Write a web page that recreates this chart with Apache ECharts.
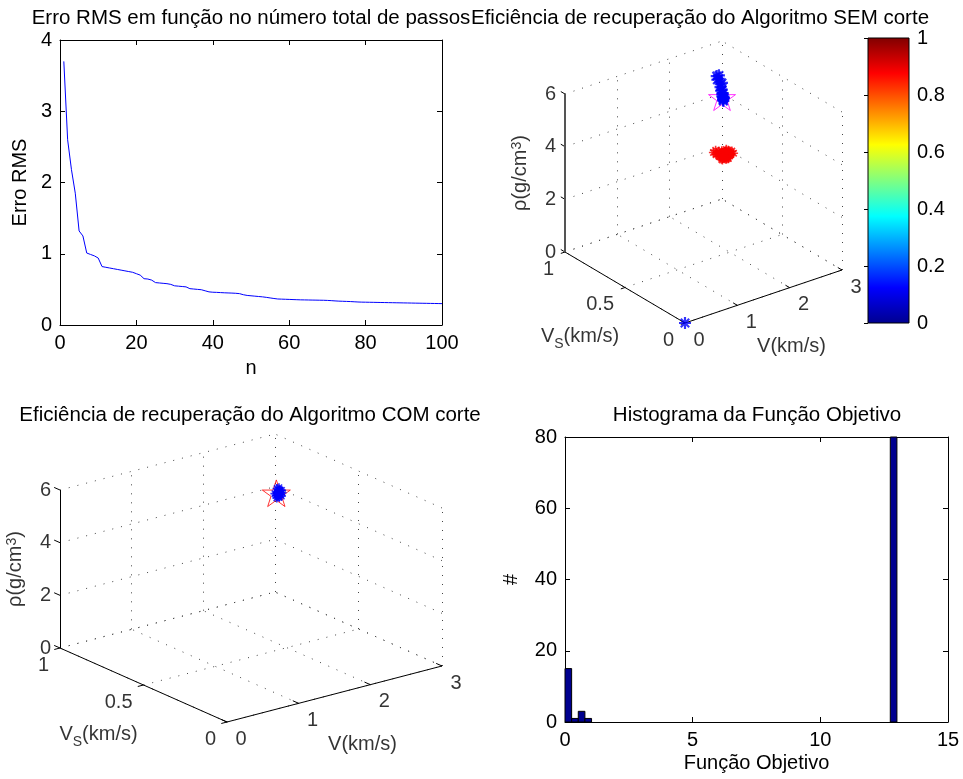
<!DOCTYPE html>
<html>
<head>
<meta charset="utf-8">
<title>Eficiência de recuperação</title>
<script src="https://cdn.jsdelivr.net/npm/echarts@6/dist/echarts.min.js"></script>
<style>
  html, body { margin: 0; padding: 0; background: #fff; }
  #chart { width: 963px; height: 779px; }
</style>
</head>
<body>
<div id="chart"></div>
<script>
const FONT = '"Liberation Sans", Arial, Helvetica, sans-serif';

// erro RMS para cada passo n = 1..100
const erroRms = [
  3.70, 2.60, 2.18, 1.85, 1.32, 1.25, 1.01, 0.99, 0.97, 0.94,
  0.82, 0.81, 0.80, 0.79, 0.78, 0.77, 0.76, 0.75, 0.74, 0.72,
  0.70, 0.65, 0.645, 0.63, 0.595, 0.59, 0.585, 0.58, 0.57, 0.55,
  0.545, 0.54, 0.535, 0.51, 0.505, 0.50, 0.495, 0.48, 0.465, 0.46,
  0.458, 0.455, 0.452, 0.45, 0.448, 0.445, 0.44, 0.425, 0.415, 0.41,
  0.405, 0.40, 0.395, 0.388, 0.38, 0.372, 0.365, 0.363, 0.361, 0.359,
  0.357, 0.355, 0.353, 0.352, 0.351, 0.350, 0.349, 0.348, 0.347, 0.345,
  0.342, 0.338, 0.335, 0.333, 0.331, 0.329, 0.326, 0.323, 0.321, 0.320,
  0.319, 0.318, 0.317, 0.316, 0.315, 0.314, 0.313, 0.312, 0.311, 0.310,
  0.309, 0.308, 0.307, 0.306, 0.305, 0.304, 0.303, 0.302, 0.301, 0.300
];
const passos = erroRms.map((_, i) => i + 1);

// histograma da função objetivo
const histIni  = [0, 0.26, 0.52, 0.78, 12.74];
const histFim  = [0.26, 0.52, 0.78, 1.04, 13.0];
const histCont = [15, 1, 3, 1, 80];

// ticks dos eixos 3D
const vTicks = [0, 1, 2, 3];
const vsTicks = [0, 0.5, 1];
const rhoTicks = [0, 2, 4, 6];

// modelo verdadeiro [V, Vs, rho]
const modeloVerdadeiro = [1.90, 0.52, 5.88];

// modelos recuperados SEM corte: [V, Vs, rho, f normalizada]
const semPontos = [
  [2.30, 0.72, 5.92, 0.12], [2.28, 0.73, 5.88, 0.12], [2.25, 0.70, 5.88, 0.12],
  [2.20, 0.69, 5.90, 0.12], [2.22, 0.66, 5.85, 0.12], [2.15, 0.64, 5.90, 0.12],
  [2.10, 0.62, 5.88, 0.12], [2.08, 0.60, 5.85, 0.12], [2.02, 0.58, 5.90, 0.12],
  [2.00, 0.56, 5.86, 0.12], [1.98, 0.55, 5.92, 0.12], [1.95, 0.54, 5.84, 0.12],
  [1.93, 0.52, 5.90, 0.12], [1.96, 0.53, 5.80, 0.12], [1.90, 0.51, 5.86, 0.12],
  [1.92, 0.52, 5.78, 0.12], [1.88, 0.50, 5.82, 0.12], [1.94, 0.53, 5.86, 0.12],
  [1.97, 0.54, 5.76, 0.12], [0, 0, 0, 0.12],
  [2.60, 0.80, 2.48, 0.88], [2.62, 0.80, 2.40, 0.88], [2.58, 0.81, 2.55, 0.88],
  [2.66, 0.80, 2.45, 0.88], [2.54, 0.79, 2.50, 0.88], [2.64, 0.81, 2.58, 0.88],
  [2.56, 0.80, 2.38, 0.88], [2.70, 0.80, 2.42, 0.88], [2.50, 0.80, 2.60, 0.88],
  [2.68, 0.79, 2.52, 0.88], [2.52, 0.81, 2.44, 0.88], [2.62, 0.80, 2.30, 0.88],
  [2.58, 0.79, 2.66, 0.88], [2.72, 0.81, 2.36, 0.88], [2.48, 0.80, 2.70, 0.88],
  [2.66, 0.80, 2.62, 0.88], [2.55, 0.80, 2.32, 0.88], [2.74, 0.79, 2.48, 0.88],
  [2.45, 0.81, 2.56, 0.88], [2.60, 0.79, 2.72, 0.88], [2.68, 0.81, 2.28, 0.88],
  [2.42, 0.80, 2.78, 0.88], [2.40, 0.81, 2.68, 0.88], [2.63, 0.80, 2.50, 0.88],
  [2.57, 0.80, 2.46, 0.88], [2.61, 0.79, 2.36, 0.88], [2.69, 0.80, 2.56, 0.88],
  [2.53, 0.80, 2.58, 0.88], [2.65, 0.81, 2.40, 0.88], [2.59, 0.80, 2.62, 0.88],
  [2.71, 0.80, 2.44, 0.88], [2.51, 0.79, 2.40, 0.88], [2.64, 0.79, 2.34, 0.88],
  [2.56, 0.81, 2.64, 0.88], [2.67, 0.80, 2.50, 0.88], [2.49, 0.80, 2.50, 0.88],
  [2.62, 0.81, 2.54, 0.88], [2.58, 0.80, 2.42, 0.88], [2.44, 0.80, 2.62, 0.88],
  [2.73, 0.80, 2.54, 0.88]
];

// modelos recuperados COM corte
const comPontos = [
  [1.93, 0.52, 5.86, 0.12], [1.95, 0.52, 5.95, 0.12], [1.90, 0.52, 5.80, 0.12],
  [1.97, 0.53, 5.90, 0.12], [1.92, 0.51, 6.00, 0.12], [1.94, 0.52, 5.70, 0.12],
  [1.89, 0.51, 5.92, 0.12], [1.96, 0.52, 5.78, 0.12], [1.91, 0.52, 6.05, 0.12],
  [1.98, 0.52, 5.84, 0.12], [1.93, 0.53, 5.65, 0.12], [1.88, 0.52, 5.88, 0.12],
  [1.95, 0.51, 5.98, 0.12], [1.92, 0.52, 5.74, 0.12], [1.94, 0.53, 5.82, 0.12],
  [1.90, 0.51, 5.96, 0.12], [1.97, 0.52, 5.72, 0.12], [1.91, 0.52, 5.90, 0.12],
  [1.93, 0.52, 5.78, 0.12], [1.96, 0.53, 6.02, 0.12]
];

// colormap jet
const jet = ['#00008f', '#0000ff', '#0080ff', '#00ffff', '#80ff80', '#ffff00', '#ff8000', '#ff0000', '#800000'];

// vista 3D: origem na tela e vetores por unidade (px)
const viewSem = { origin: [685, 323], v: [52.33, 17.67], vs: [-120, 71], rho: 26.33 };
const viewCom = { origin: [227, 722], v: [71.67, 18.67], vs: [-167, 74], rho: 26.33 };

const vMax = vTicks[vTicks.length - 1];
const vsMax = vsTicks[vsTicks.length - 1];
const rhoMax = rhoTicks[rhoTicks.length - 1];

const ASTER = 'path://M0 41L100 41L100 59L0 59ZM41 0L59 0L59 100L41 100ZM21.36 8.64L91.36 78.64L78.64 91.36L8.64 21.36ZM91.36 21.36L21.36 91.36L8.64 78.64L78.64 8.64Z';
const STAR = 'path://M50 0L61.2 34.5L97.6 34.5L68.2 55.9L79.4 90.5L50 69.1L20.6 90.5L31.8 55.9L2.4 34.5L38.8 34.5Z';

function proj(view, p) {
  return [p[0] * view.v[0] + p[1] * view.vs[0],
          p[0] * view.v[1] + p[1] * view.vs[1] + p[2] * view.rho];
}

function limites(view) {
  const xmin = vsMax * view.vs[0], xmax = vMax * view.v[0];
  const ymax = vMax * view.v[1] + vsMax * view.vs[1] + rhoMax * view.rho;
  return { xmin, xmax, ymax,
    grid: { left: view.origin[0] + xmin, top: view.origin[1] - ymax, width: xmax - xmin, height: ymax, outerBoundsMode: 'none' } };
}

const chart = echarts.init(document.getElementById('chart'));

const txt = { color: '#000', fontSize: 20, fontFamily: FONT };
const tit = { fontSize: 20.5, fontWeight: 'normal', color: '#000', fontFamily: FONT };

function eixo(extra) {
  return Object.assign({
    type: 'value',
    axisLine: { show: true, onZero: false, lineStyle: { color: '#000', width: 1 } },
    axisTick: { show: true, inside: true, length: 5, lineStyle: { color: '#000' } },
    axisLabel: Object.assign({ margin: 8 }, txt),
    splitLine: { show: false },
    nameTextStyle: txt
  }, extra);
}
function espelho(extra) {
  return eixo(Object.assign({ axisLabel: { show: false } }, extra));
}

const limSem = limites(viewSem), limCom = limites(viewCom);

const series = [];

// erro RMS
series.push({
  type: 'line', xAxisIndex: 0, yAxisIndex: 0,
  data: passos.map((n, i) => [n, erroRms[i]]),
  showSymbol: false, symbol: 'none',
  lineStyle: { color: '#0000ff', width: 1 }
});

// histograma
series.push({
  type: 'custom', xAxisIndex: 2, yAxisIndex: 2,
  data: histIni.map((a, i) => [a, histFim[i], histCont[i]]),
  renderItem: function (params, api) {
    const a = api.coord([api.value(0), api.value(2)]);
    const b = api.coord([api.value(1), 0]);
    return { type: 'rect', shape: { x: a[0], y: a[1], width: b[0] - a[0], height: b[1] - a[1] },
      style: { fill: '#00008f', stroke: '#000', lineWidth: 1 } };
  }
});

// barra de cores
series.push({
  type: 'custom', xAxisIndex: 4, yAxisIndex: 4, z: 1,
  data: [[0, 0, 1, 1]],
  renderItem: function (params, api) {
    const a = api.coord([api.value(0), api.value(3)]);
    const b = api.coord([api.value(2), api.value(1)]);
    return { type: 'rect', shape: { x: a[0], y: a[1], width: b[0] - a[0], height: b[1] - a[1] },
      style: {
        fill: new echarts.graphic.LinearGradient(0, 1, 0, 0, jet.map((c, i) => ({ offset: i / (jet.length - 1), color: c }))),
        stroke: '#000', lineWidth: 1
      } };
  }
});

const pontosIdx = [];

function serie3d(view, ai, pontos, opts) {
  const P = p => proj(view, p);
  const seg = (a, b) => ({ coords: [P(a), P(b)] });
  const grade = [];
  vTicks.forEach(v => { grade.push(seg([v, 0, 0], [v, vsMax, 0])); grade.push(seg([v, vsMax, 0], [v, vsMax, rhoMax])); });
  vsTicks.forEach(s => { grade.push(seg([0, s, 0], [vMax, s, 0])); grade.push(seg([vMax, s, 0], [vMax, s, rhoMax])); });
  rhoTicks.forEach(r => { grade.push(seg([0, vsMax, r], [vMax, vsMax, r])); grade.push(seg([vMax, 0, r], [vMax, vsMax, r])); });

  const eixos = [seg([0, 0, 0], [vMax, 0, 0]), seg([0, 0, 0], [0, vsMax, 0])];
  vTicks.forEach(v => eixos.push(seg([v, 0, 0], [v, 0.035, 0])));
  vsTicks.forEach(s => eixos.push(seg([0, s, 0], [-0.08, s, 0])));
  rhoTicks.forEach(r => eixos.push(seg([0, vsMax, r], [0, vsMax + 0.035, r])));
  const eixoZ = [seg([0, vsMax, 0], [0, vsMax, rhoMax])];

  const rot = [];
  rhoTicks.forEach(r => rot.push({ value: P([0, vsMax, r]), t: String(r), label: { align: 'right', offset: [-9, 0] } }));
  vsTicks.forEach(s => rot.push({ value: P([0, s, 0]), t: String(s), label: { align: 'right', offset: [-11, 17] } }));
  vTicks.forEach(v => rot.push({ value: P([v, 0, 0]), t: String(v), label: { offset: [14, 17] } }));
  rot.push({ value: P([vMax / 2, 0, 0]), t: 'V(km/s)', label: { offset: [28, 50] } });
  rot.push({ value: P([0, vsMax / 2, 0]), t: '{a|V}{s|S}{a|(km/s)}', label: { offset: [-45, 51] } });
  rot.push({ value: P([0, vsMax, rhoMax / 2]), t: '{a|ρ(g/cm}{p|3}{a|)}', label: { rotate: 90, offset: [0, -43] } });

  const base = { xAxisIndex: ai, yAxisIndex: ai, silent: true };
  series.push(Object.assign({ type: 'lines', coordinateSystem: 'cartesian2d', polyline: false, clip: false,
    data: grade, lineStyle: { color: '#444', width: 1, type: [1, 8], opacity: 1 } }, base));
  series.push(Object.assign({ type: 'lines', coordinateSystem: 'cartesian2d', polyline: false, clip: false,
    data: eixos, lineStyle: { color: '#000', width: 1, opacity: 1 } }, base));
  series.push(Object.assign({ type: 'lines', coordinateSystem: 'cartesian2d', polyline: false, clip: false,
    data: eixoZ, lineStyle: { color: opts.corZ, width: opts.largZ, opacity: 1 } }, base));
  series.push(Object.assign({ type: 'scatter', clip: false, symbolSize: 1, itemStyle: { color: 'rgba(0,0,0,0)' },
    data: rot,
    label: {
      show: true, position: 'inside', align: 'center', verticalAlign: 'middle',
      formatter: p => p.data.t, color: '#000', fontSize: 20, fontFamily: FONT,
      rich: {
        a: { fontSize: 20, lineHeight: 24, verticalAlign: 'top', fontFamily: FONT, color: '#000' },
        s: { fontSize: 14, lineHeight: 16, padding: [11, 0, 0, 0], verticalAlign: 'top', fontFamily: FONT, color: '#000' },
        p: { fontSize: 14, lineHeight: 12, verticalAlign: 'top', fontFamily: FONT, color: '#000' }
      }
    } }, base));
  series.push(Object.assign({ type: 'scatter', clip: false, symbol: STAR, symbolSize: opts.tamEstrela, symbolKeepAspect: true,
    data: [P(modeloVerdadeiro)],
    itemStyle: { color: 'rgba(0,0,0,0)', borderColor: opts.corEstrela, borderWidth: 1 } }, base));
  pontosIdx.push(series.length);
  series.push(Object.assign({ type: 'scatter', clip: false, symbol: ASTER,
    symbolSize: val => (val[2] < 0.5 ? opts.tamAzul : opts.tamVermelho),
    data: pontos.map(p => P(p).concat([p[3]])) }, base));
}

serie3d(viewSem, 5, semPontos, { corEstrela: '#ff00ff', tamEstrela: 27, tamAzul: 12, tamVermelho: 9, corZ: '#555', largZ: 2 });
serie3d(viewCom, 6, comPontos, { corEstrela: '#ff0000', tamEstrela: 28, tamAzul: 9, tamVermelho: 9, corZ: '#000', largZ: 1 });

chart.setOption({
  animation: false,
  backgroundColor: '#fff',
  textStyle: { fontFamily: FONT },
  title: [
    { text: 'Erro RMS em função no número total de passos', left: 251, top: 8, padding: 0, textAlign: 'center', textStyle: tit },
    { text: 'Eficiência de recuperação do Algoritmo SEM corte', left: 700, top: 8, padding: 0, textAlign: 'center', textStyle: tit },
    { text: 'Eficiência de recuperação do Algoritmo COM corte', left: 250, top: 405, padding: 0, textAlign: 'center', textStyle: tit },
    { text: 'Histograma da Função Objetivo', left: 757, top: 405, padding: 0, textAlign: 'center', textStyle: tit }
  ],
  grid: [
    { left: 60, top: 40, width: 382, height: 285, outerBoundsMode: 'none' },
    { left: 565, top: 437, width: 383, height: 285, outerBoundsMode: 'none' },
    { left: 868, top: 38, width: 41, height: 285, outerBoundsMode: 'none' },
    limSem.grid,
    limCom.grid
  ],
  xAxis: [
    eixo({ gridIndex: 0, min: 0, max: 100, interval: 20, name: 'n', nameLocation: 'middle', nameGap: 33 }),
    espelho({ gridIndex: 0, position: 'top', min: 0, max: 100, interval: 20 }),
    eixo({ gridIndex: 1, min: 0, max: 15, interval: 5, name: 'Função Objetivo', nameLocation: 'middle', nameGap: 31 }),
    espelho({ gridIndex: 1, position: 'top', min: 0, max: 15, interval: 5 }),
    { type: 'value', gridIndex: 2, min: 0, max: 1, show: false },
    { type: 'value', gridIndex: 3, min: limSem.xmin, max: limSem.xmax, show: false },
    { type: 'value', gridIndex: 4, min: limCom.xmin, max: limCom.xmax, show: false }
  ],
  yAxis: [
    eixo({ gridIndex: 0, min: 0, max: 4, interval: 1, name: 'Erro RMS', nameLocation: 'middle', nameGap: 30 }),
    espelho({ gridIndex: 0, position: 'right', min: 0, max: 4, interval: 1 }),
    eixo({ gridIndex: 1, min: 0, max: 80, interval: 20, name: '#', nameLocation: 'middle', nameGap: 44 }),
    espelho({ gridIndex: 1, position: 'right', min: 0, max: 80, interval: 20 }),
    eixo({ gridIndex: 2, position: 'right', min: 0, max: 1, interval: 0.2, z: 5,
      axisLine: { show: false }, axisTick: { show: true, inside: true, length: 4, lineStyle: { color: '#000' } },
      axisLabel: Object.assign({ margin: 8 }, txt) }),
    { type: 'value', gridIndex: 3, min: 0, max: limSem.ymax, show: false },
    { type: 'value', gridIndex: 4, min: 0, max: limCom.ymax, show: false }
  ],
  visualMap: {
    type: 'continuous', show: false, min: 0, max: 1, dimension: 2,
    seriesIndex: pontosIdx, inRange: { color: jet }
  },
  series: series
});
</script>
</body>
</html>
